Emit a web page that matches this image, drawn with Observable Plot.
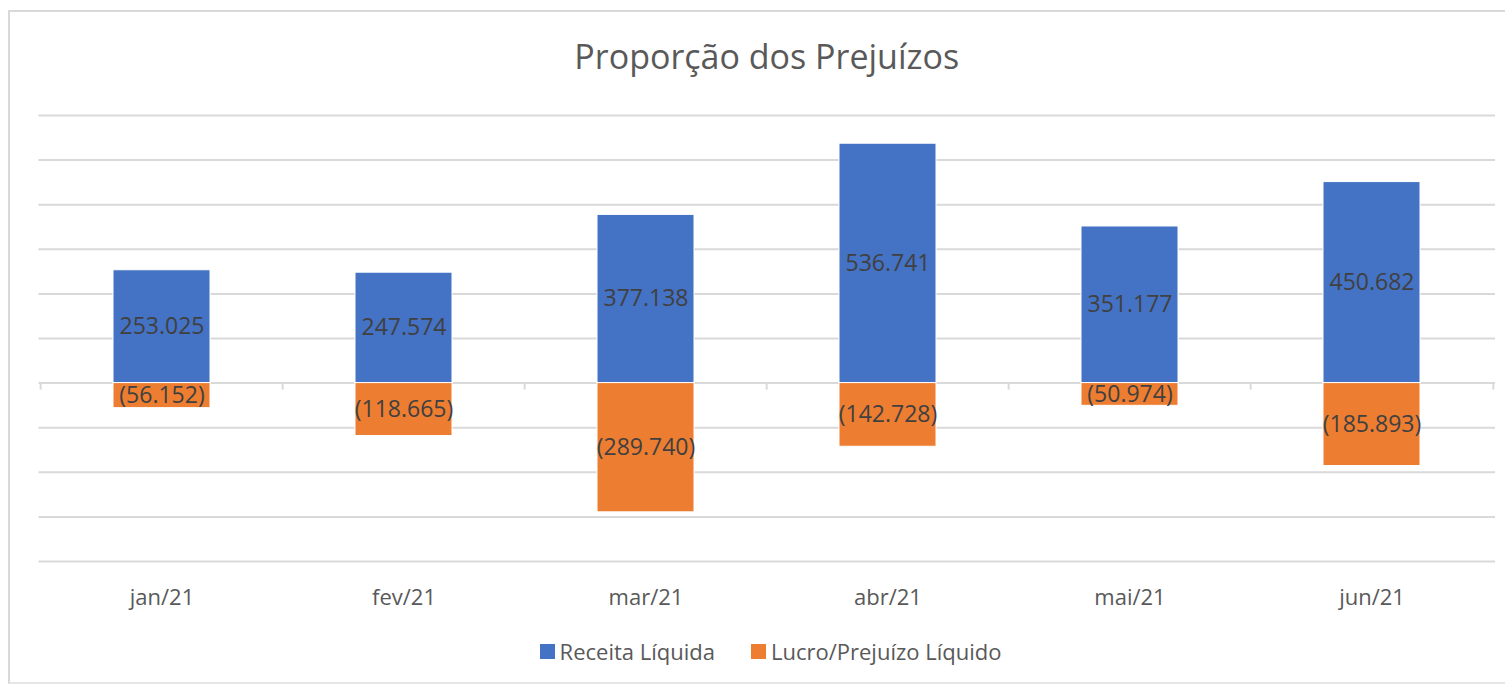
<!DOCTYPE html>
<html>
<head>
<meta charset="utf-8">
<script src="https://cdn.jsdelivr.net/npm/d3@7"></script>
<script src="https://cdn.jsdelivr.net/npm/@observablehq/plot@0.6"></script>
<style>
  html, body { margin: 0; padding: 0; background: #fff; overflow: hidden; }
  #wrap { position: relative; width: 1505px; height: 688px; font-family: "Open Sans", sans-serif; }
  #frame { position: absolute; left: 8px; top: 10px; width: 1510px; height: 674px; border-left: 2px solid #d9d9d9; border-top: 2px solid #d9d9d9; border-bottom: 2px solid #e6e6e6; box-sizing: border-box; }
  #title { position: absolute; left: 38.5px; width: 1456.5px; top: 39px; text-align: center; font-size: 34px; line-height: 34px; color: #595959; white-space: nowrap; }
  #chart { position: absolute; left: 0; top: 0; }
  #legend { position: absolute; left: 36px; width: 1469px; top: 640px; display: flex; justify-content: center; gap: 36px; font-size: 22px; line-height: 22px; color: #595959; white-space: nowrap; }
  .item { display: flex; align-items: center; gap: 5px; }
  .sw { width: 15px; height: 15px; display: inline-block; }
</style>
</head>
<body>
<div id="wrap">
  <div id="frame"></div>
  <div id="chart"></div>
  <div id="title">Proporção dos Prejuízos</div>
  <div id="legend"></div>
</div>
<script>
const months = ["jan/21", "fev/21", "mar/21", "abr/21", "mai/21", "jun/21"];
const receita = [253025, 247574, 377138, 536741, 351177, 450682];
const lucro = [-56152, -118665, -289740, -142728, -50974, -185893];
const yTicks = [-400000, -300000, -200000, -100000, 0, 100000, 200000, 300000, 400000, 500000, 600000];
const seriesNames = ["Receita Líquida", "Lucro/Prejuízo Líquido"];
const seriesColors = ["#4472C4", "#ED7D31"];

const rows = months.flatMap((m, i) => [
  {month: m, series: seriesNames[0], value: receita[i]},
  {month: m, series: seriesNames[1], value: lucro[i]}
]);

const W = 1505, H = 688, ML = 38.5, MR = 10;
const step = (W - ML - MR) / months.length;
const num = d3.format(",");
const fmt = v => {
  const s = num(Math.abs(v)).replace(/,/g, ".");
  return v < 0 ? "(" + s + ")" : s;
};

const chart = Plot.plot({
  width: W,
  height: H,
  marginTop: 115,
  marginBottom: 127,
  marginLeft: ML,
  marginRight: MR,
  x: {domain: months, paddingInner: 0.6, paddingOuter: 0.3, label: null},
  y: {domain: [-400000, 600000], axis: null},
  color: {domain: seriesNames, range: seriesColors},
  style: {fontFamily: "Open Sans, sans-serif", fontSize: "22px", color: "#595959", background: "transparent"},
  marks: [
    Plot.ruleY(yTicks, {stroke: "#d9d9d9", strokeWidth: 2}),
    Plot.ruleX(months, {x: d => d, y1: 0, y2: 0, dx: -step / 2, insetBottom: -7, stroke: "#d9d9d9", strokeWidth: 2}),
    Plot.ruleX([months[months.length - 1]], {x: d => d, y1: 0, y2: 0, dx: step / 2, insetBottom: -7, stroke: "#d9d9d9", strokeWidth: 2}),
    Plot.barY(rows, {x: "month", y: "value", fill: "series", stroke: "#ffffff", strokeWidth: 1}),
    Plot.text(rows, {x: "month", y: d => d.value / 2, text: d => fmt(d.value), fill: "#404040", fontSize: 23}),
    Plot.axisX({tickSize: 0, tickPadding: 28, fontSize: 22, fill: "#595959"})
  ]
});
document.getElementById("chart").appendChild(chart);

const legend = document.getElementById("legend");
seriesNames.forEach((name, i) => {
  const item = document.createElement("div");
  item.className = "item";
  const sw = document.createElement("span");
  sw.className = "sw";
  sw.style.background = seriesColors[i];
  const label = document.createElement("span");
  label.textContent = name;
  item.appendChild(sw);
  item.appendChild(label);
  legend.appendChild(item);
});
</script>
</body>
</html>
